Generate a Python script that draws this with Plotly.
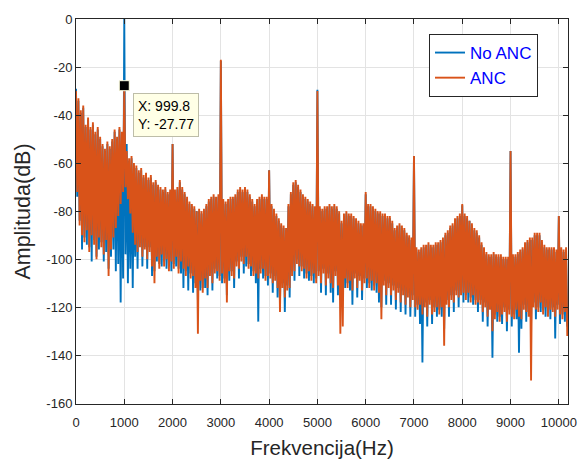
import plotly.graph_objects as go

# Frequency step of the spectrum samples (Hz)
step_hz = 25

# ANC spectrum (dB), 25 Hz per sample
anc_db = [
    -30, -72, -33, -86, -38, -90, -36, -93, -44, -88, -41, -97, -45, -90, -43, -94, -47, -100, -45, -91,
    -49, -95, -52, -98, -54, -92, -51, -107, -53, -96, -50, -91, -46, -87, -49, -82, -45, -77, -47, -72,
    -27.77, -70, -55, -75, -58, -81, -57, -89, -60, -94, -61, -97, -63, -95, -62, -99, -65, -96, -64, -100,
    -66, -97, -65, -103, -68, -110, -67, -99, -69, -104, -70, -98, -71, -103, -70, -100, -72, -105, -71, -101,
    -52, -104, -71, -99, -70, -106, -67, -101, -70, -104, -72, -107, -74, -103, -76, -108, -77, -107, -78, -112,
    -80, -131, -79, -109, -80, -114, -79, -108, -77, -112, -75, -107, -74, -110, -73, -106, -74, -105, -73, -109,
    -17, -106, -75, -110, -76, -118, -75, -105, -74, -107, -74, -108, -73, -103, -71, -104, -70, -101, -71, -102,
    -70, -99, -71, -104, -73, -103, -75, -107, -77, -106, -75, -108, -74, -106, -73, -104, -74, -109, -74, -107,
    -63, -108, -77, -110, -79, -109, -81, -112, -83, -122, -85, -112, -86, -116, -87, -113, -77, -112, -72, -107,
    -68, -105, -67, -102, -69, -103, -71, -105, -73, -104, -74, -108, -75, -105, -76, -109, -77, -106, -78, -110,
    -30, -107, -78, -110, -79, -106, -78, -111, -78, -108, -77, -110, -78, -112, -77, -107, -78, -111, -80, -131,
    -84, -128, -81, -108, -80, -112, -81, -109, -81, -113, -82, -108, -83, -112, -84, -109, -85, -113, -85, -110,
    -72, -108, -77, -112, -77, -109, -78, -113, -79, -110, -80, -114, -80, -125, -81, -111, -81, -115, -82, -112,
    -82, -115, -84, -113, -87, -117, -86, -114, -85, -118, -86, -115, -87, -119, -89, -116, -90, -120, -91, -117,
    -57, -120, -95, -121, -96, -119, -95, -123, -94, -120, -94, -124, -93, -119, -94, -123, -94, -122, -93, -120,
    -93, -123, -92, -120, -91, -136, -89, -119, -88, -120, -86, -117, -85, -118, -83, -115, -82, -116, -81, -115,
    -77, -114, -81, -117, -82, -114, -84, -118, -85, -115, -87, -119, -88, -118, -90, -119, -93, -122, -95, -120,
    -97, -124, -98, -121, -98, -130, -97, -125, -98, -122, -98, -126, -98, -123, -99, -122, -99, -126, -99, -123,
    -55, -124, -98, -125, -98, -121, -97, -124, -96, -125, -95, -121, -93, -122, -92, -124, -91, -150.5, -91, -120,
    -89, -121, -89, -122, -89, -118, -92, -123, -94, -120, -95, -124, -95, -121, -95, -122, -95, -124, -96, -121,
    -82, -123, -95, -125, -96, -122, -95, -132,
]

# No-ANC spectrum (dB), 25 Hz per sample
no_anc_db = [
    -29, -74, -34, -84, -39, -96, -37, -91, -45, -94, -42, -95, -46, -101, -44, -92, -48, -99, -46, -96,
    -50, -93, -53, -101, -55, -97, -52, -104, -54, -99, -51, -96, -47, -105, -50, -102, -46, -118, -48, -108,
    0, -98, -52, -110, -59, -104, -58, -112, -61, -99, -62, -104, -64, -93, -63, -103, -66, -95, -65, -104,
    -67, -95, -66, -107, -69, -105, -68, -101, -70, -102, -71, -103, -72, -101, -71, -104, -73, -103, -72, -105,
    -52, -102, -72, -103, -71, -104, -68, -106, -71, -112, -73, -105, -75, -113, -77, -106, -78, -114, -79, -110,
    -80, -117, -80, -113, -81, -112, -80, -112, -78, -115, -76, -105, -75, -113, -74, -104, -75, -108, -74, -107,
    -17.5, -110, -76, -108, -77, -115, -76, -109, -75, -105, -75, -112, -74, -101, -72, -108, -71, -99, -72, -106,
    -71, -103, -72, -102, -74, -107, -76, -105, -78, -110, -76, -126, -75, -104, -74, -108, -75, -107, -75, -111,
    -63, -106, -78, -114, -80, -107, -82, -116, -84, -118, -86, -110, -87, -122, -88, -111, -78, -116, -73, -105,
    -69, -109, -68, -100, -70, -107, -72, -103, -74, -108, -75, -106, -76, -109, -77, -107, -78, -110, -79, -108,
    -29.5, -105, -79, -114, -80, -104, -79, -115, -79, -106, -78, -114, -79, -118, -78, -105, -79, -115, -81, -117,
    -85, -116, -82, -112, -81, -110, -82, -113, -82, -119, -83, -106, -84, -116, -85, -107, -86, -117, -86, -108,
    -73, -112, -78, -110, -78, -113, -79, -111, -80, -114, -81, -118, -81, -120, -82, -109, -82, -119, -83, -110,
    -83, -119, -85, -111, -88, -121, -87, -112, -86, -122, -87, -113, -88, -123, -90, -114, -91, -124, -92, -115,
    -57, -124, -96, -119, -97, -127, -96, -143, -95, -118, -95, -128, -94, -117, -95, -127, -95, -120, -94, -124,
    -94, -121, -93, -124, -92, -129, -90, -117, -89, -124, -87, -115, -86, -122, -84, -113, -83, -120, -82, -113,
    -77.5, -118, -82, -115, -83, -118, -84, -116, -86, -119, -88, -117, -89, -122, -91, -117, -94, -126, -96, -118,
    -98, -128, -99, -119, -99, -141, -98, -123, -99, -126, -99, -124, -99, -127, -100, -120, -100, -130, -100, -121,
    -55, -128, -99, -123, -99, -125, -98, -139, -97, -129, -96, -119, -94, -126, -93, -122, -92, -127, -92, -118,
    -90, -125, -90, -120, -90, -122, -93, -121, -95, -124, -96, -122, -96, -125, -96, -120, -96, -133, -97, -119,
    -82, -127, -96, -123, -97, -126, -96, -128,
]

freq_anc = [step_hz * i for i in range(len(anc_db))]
freq_no_anc = [step_hz * i for i in range(len(no_anc_db))]

# Data tip
tip_x = 999.8
tip_y = -27.77

x_ticks = [0, 1000, 2000, 3000, 4000, 5000, 6000, 7000, 8000, 9000, 10000]
y_ticks = [0, -20, -40, -60, -80, -100, -120, -140, -160]

BLUE = "#0072BD"
ORANGE = "#D95319"
AX = "#262626"
FONT = "Liberation Sans, Arial, Helvetica, sans-serif"

fig = go.Figure()
fig.add_trace(go.Scatter(x=freq_no_anc, y=no_anc_db, mode="lines", name="No ANC",
                         line=dict(color=BLUE, width=1.9)))
fig.add_trace(go.Scatter(x=freq_anc, y=anc_db, mode="lines", name="ANC",
                         line=dict(color=ORANGE, width=1.9)))
fig.add_trace(go.Scatter(x=[tip_x], y=[tip_y], mode="markers", showlegend=False,
                         marker=dict(symbol="square", size=10, color="black",
                                     line=dict(color="#FFFFE1", width=1))))

fig.add_annotation(x=1180, y=-30.8, xref="x", yref="y", xanchor="left", yanchor="top",
                   text=f"X: {tip_x}<br>Y: {tip_y}", showarrow=False, align="left",
                   font=dict(family=FONT, size=14, color="black"),
                   bgcolor="#FFFFE6", bordercolor="#BDBDA8", borderwidth=1, borderpad=4)

axis_common = dict(showline=True, linecolor=AX, linewidth=1, mirror="ticks",
                   ticks="inside", ticklen=5, tickcolor=AX, automargin=False,
                   showgrid=True, gridcolor="#E3E3E3", gridwidth=1, zeroline=False,
                   tickfont=dict(family=FONT, size=13, color=AX))

fig.update_xaxes(range=[0, 10190], tickvals=x_ticks, ticktext=[str(v) for v in x_ticks],
                 ticklabelstandoff=6,
                 title=dict(text="Frekvencija(Hz)", font=dict(family=FONT, size=20.5, color=AX), standoff=13),
                 **axis_common)
fig.update_yaxes(range=[-160.3, 0], tickvals=y_ticks, ticktext=[str(v) for v in y_ticks],
                 title=dict(text="Amplituda(dB)", font=dict(family=FONT, size=21.5, color=AX), standoff=9),
                 **axis_common)

fig.update_layout(
    width=581, height=459,
    margin=dict(l=76, r=13, t=19, b=55),
    paper_bgcolor="white", plot_bgcolor="white",
    font=dict(family=FONT, color=AX),
    legend=dict(x=0.7175, y=0.961, xanchor="left", yanchor="top",
                bgcolor="white", bordercolor=AX, borderwidth=1,
                font=dict(family=FONT, size=17, color="#0000FF"),
                entrywidth=80, entrywidthmode="pixels",
                tracegroupgap=0),
)

fig.write_html("out.html", config={"displayModeBar": False},
               post_script="document.body.style.margin='0px';document.body.style.padding='0px';")
